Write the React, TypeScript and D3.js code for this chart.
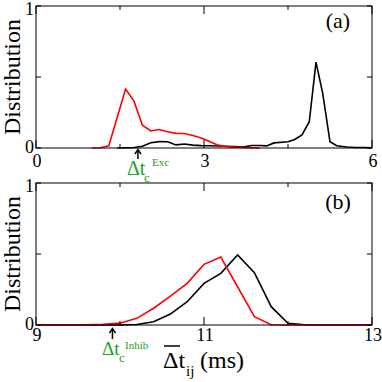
import React, { useEffect, useState } from "react";
import * as d3 from "d3";

// Panel (a) data
const redAx = [1.0, 1.15, 1.3, 1.6, 1.75, 1.9, 2.05, 2.2, 2.35, 2.5, 2.65, 2.8, 2.95, 3.1, 3.25, 3.4, 3.55, 3.7, 3.85, 4.0];
const redAy = [0, 0.002, 0.016, 0.415, 0.33, 0.16, 0.12, 0.13, 0.115, 0.103, 0.102, 0.088, 0.07, 0.045, 0.02, 0.01, 0.006, 0.004, 0.002, 0.0];
const blackAx = [1.45, 1.6, 1.75, 1.9, 2.05, 2.2, 2.35, 2.5, 2.65, 2.8, 2.95, 3.1, 3.25, 3.4, 3.55, 3.7, 3.85, 4.0, 4.12, 4.25, 4.5, 4.62, 4.75, 4.88, 5.0, 5.12, 5.25, 5.37, 5.55, 5.7, 5.85, 6.0];
const blackAy = [0, 0.002, 0.004, 0.012, 0.037, 0.045, 0.044, 0.022, 0.028, 0.02, 0.017, 0.016, 0.014, 0.012, 0.01, 0.006, 0.018, 0.018, 0.015, 0.036, 0.044, 0.06, 0.092, 0.185, 0.605, 0.385, 0.044, 0.016, 0.007, 0.004, 0.003, 0.002];

// Panel (b) data
const redBx = [9.0, 9.4, 9.6, 9.8, 10.0, 10.2, 10.4, 10.6, 10.8, 11.0, 11.2, 11.6, 11.8, 12.0, 13.0];
const redBy = [0, 0, 0.002, 0.005, 0.013, 0.047, 0.118, 0.204, 0.293, 0.427, 0.478, 0.059, 0.002, 0, 0];
const blackBx = [9.0, 10.0, 10.2, 10.4, 10.6, 10.8, 11.0, 11.2, 11.4, 11.6, 11.8, 12.0, 12.2, 12.4, 13.0];
const blackBy = [0, 0, 0.003, 0.023, 0.077, 0.164, 0.293, 0.364, 0.494, 0.368, 0.129, 0.012, 0.002, 0, 0];

const xTicksA = [0, 1.5, 3, 4.5, 6];
const xLabelsA = [0, 3, 6];
const xTicksB = [9, 10, 11, 12, 13];
const xLabelsB = [9, 11, 13];
const yTicks = [0, 0.5, 1];
const yLabels = [0, 1];

const critA = 1.82;
const critB = 9.91;

const GREEN = "#22a022";

type TProps = { x?: number; y?: number; size: number; fill?: string; anchor?: string; transform?: string; children: React.ReactNode };
function T(p: TProps) {
  return (
    <text
      x={p.x}
      y={p.y}
      transform={p.transform}
      textAnchor={p.anchor || "start"}
      fontFamily="Liberation Serif"
      fontSize={p.size}
      fill={p.fill || "#000"}
      style={{ fontFamily: '"Liberation Serif"', fontSize: p.size }}
    >
      {p.children}
    </text>
  );
}

type PanelProps = {
  top: number;
  bottom: number;
  xDomain: [number, number];
  xTicks: number[];
  xLabels: number[];
  red: [number[], number[]];
  black: [number[], number[]];
  tag: string;
  tagY: number;
  xLabelBaseline: number;
};

const L = 36;
const R = 372;

function Panel(p: PanelProps) {
  const x = d3.scaleLinear().domain(p.xDomain).range([L, R]);
  const y = d3.scaleLinear().domain([0, 1]).range([p.bottom, p.top]);
  const line = d3
    .line<[number, number]>()
    .x((d) => x(d[0]))
    .y((d) => y(d[1]));
  const pts = (s: [number[], number[]]) => s[0].map((v, i) => [v, s[1][i]] as [number, number]);
  const isMajor = (v: number) => p.xLabels.includes(v);
  return (
    <g>
      <path d={line(pts(p.black)) || ""} fill="none" stroke="#000" strokeWidth={1.6} />
      <path d={line(pts(p.red)) || ""} fill="none" stroke="#ff0000" strokeWidth={1.6} />
      <rect x={L} y={p.top} width={R - L} height={p.bottom - p.top} fill="none" stroke="#000" strokeWidth={1} />
      {p.xTicks.map((v) => {
        const len = isMajor(v) ? 8 : 4;
        return (
          <g key={"xt" + v}>
            <line x1={x(v)} x2={x(v)} y1={p.bottom} y2={p.bottom - len} stroke="#000" />
            <line x1={x(v)} x2={x(v)} y1={p.top} y2={p.top + len} stroke="#000" />
          </g>
        );
      })}
      {yTicks.map((v) => (
        <g key={"yt" + v}>
          <line x1={L} x2={L + 5} y1={y(v)} y2={y(v)} stroke="#000" />
          <line x1={R} x2={R - 5} y1={y(v)} y2={y(v)} stroke="#000" />
        </g>
      ))}
      {p.xLabels.map((v) => (
        <T key={"xl" + v} x={x(v) + 1} y={p.xLabelBaseline} anchor="middle" size={18}>
          {v}
        </T>
      ))}
      {yLabels.map((v) => (
        <T key={"yl" + v} x={L - 2} y={v === 0 ? y(v) + 5 : y(v) + 9} anchor="end" size={18}>
          {v}
        </T>
      ))}
      <T transform={`translate(20,${(p.top + p.bottom) / 2}) rotate(-90)`} anchor="middle" size={24}>
        Distribution
      </T>
      <T x={338} y={p.tagY} anchor="middle" size={22}>
        {p.tag}
      </T>
    </g>
  );
}

export default function App() {
  const [ready, setReady] = useState(0);
  useEffect(() => {
    const d: any = document as any;
    if (d.fonts && d.fonts.load) {
      d.fonts.load('18px "Liberation Serif"').then(() => setReady(1)).catch(() => setReady(1));
    }
  }, []);
  const xa = d3.scaleLinear().domain([0, 6]).range([L, R]);
  const xb = d3.scaleLinear().domain([9, 13]).range([L, R]);
  const ax = xa(critA);
  const bx = xb(critB);
  return (
    <svg
      key={ready}
      width={382}
      height={382}
      fontFamily="Liberation Serif"
      style={{ position: "fixed", left: 0, top: 0, background: "#fff", fontFamily: '"Liberation Serif"' }}
    >
      <rect width={382} height={382} fill="#fff" />
      <Panel
        top={6}
        bottom={148}
        xDomain={[0, 6]}
        xTicks={xTicksA}
        xLabels={xLabelsA}
        red={[redAx, redAy]}
        black={[blackAx, blackAy]}
        tag="(a)"
        tagY={28}
        xLabelBaseline={167}
      />
      <Panel
        top={183}
        bottom={325}
        xDomain={[9, 13]}
        xTicks={xTicksB}
        xLabels={xLabelsB}
        red={[redBx, redBy]}
        black={[blackBx, blackBy]}
        tag="(b)"
        tagY={209}
        xLabelBaseline={341}
      />
      {/* arrow (a) */}
      <line x1={ax} x2={ax} y1={159} y2={150} stroke="#000" strokeWidth={1.5} />
      <path d={`M${ax - 3},${154} L${ax},${149.5} L${ax + 3},${154}`} fill="none" stroke="#000" strokeWidth={1.5} />
      <T x={127} y={175} size={20} fill={GREEN}>
        Δt
      </T>
      <T x={144} y={182} size={13} fill={GREEN}>
        c
      </T>
      <T x={152} y={166} size={11} fill={GREEN}>
        Exc
      </T>
      {/* arrow (b) */}
      <line x1={bx} x2={bx} y1={339} y2={329} stroke="#000" strokeWidth={1.5} />
      <path d={`M${bx - 3},${333} L${bx},${328.5} L${bx + 3},${333}`} fill="none" stroke="#000" strokeWidth={1.5} />
      <T x={102} y={355} size={19} fill={GREEN}>
        Δt
      </T>
      <T x={119} y={362} size={13} fill={GREEN}>
        c
      </T>
      <T x={125} y={349} size={11} fill={GREEN}>
        Inhib
      </T>
      {/* x label (b) */}
      <line x1={164} x2={180} y1={346} y2={346} stroke="#000" strokeWidth={1.5} />
      <T x={163} y={368} size={24}>
        Δt
      </T>
      <T x={186} y={376} size={15}>
        ij
      </T>
      <T x={200} y={368} size={24}>
        (ms)
      </T>
    </svg>
  );
}
